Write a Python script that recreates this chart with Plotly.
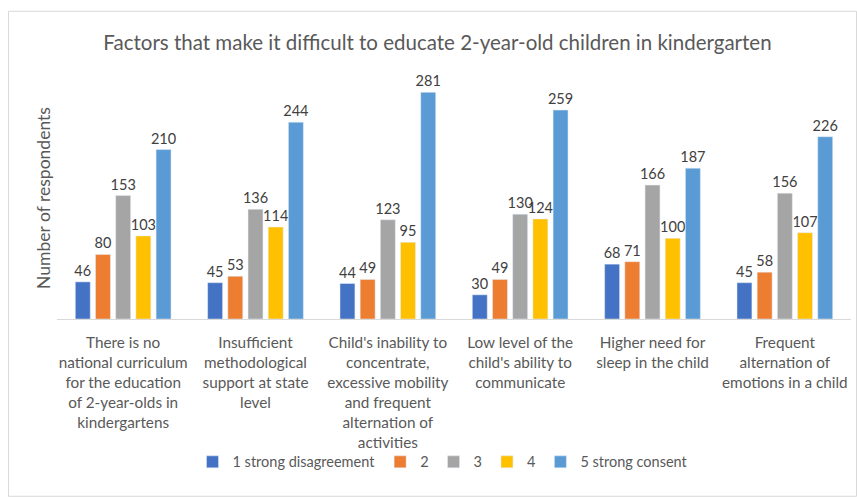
import plotly.graph_objects as go

categories = [
    "There is no<br>national curriculum<br>for the education<br>of 2-year-olds in<br>kindergartens",
    "Insufficient<br>methodological<br>support at state<br>level",
    "Child's inability to<br>concentrate,<br>excessive mobility<br>and frequent<br>alternation of<br>activities",
    "Low level of the<br>child's ability to<br>communicate",
    "Higher need for<br>sleep in the child",
    "Frequent<br>alternation of<br>emotions in a child",
]
series_names = ["1 strong disagreement", "2", "3", "4", "5 strong consent"]
s1 = [46, 45, 44, 30, 68, 45]
s2 = [80, 53, 49, 49, 71, 58]
s3 = [153, 136, 123, 130, 166, 156]
s4 = [103, 114, 95, 124, 100, 107]
s5 = [210, 244, 281, 259, 187, 226]
colors = ["#4472C4", "#ED7D31", "#A5A5A5", "#FFC000", "#5B9BD5"]

FONT = "Lato, Open Sans, sans-serif"
TXT = "#595959"

fig = go.Figure()
for name, vals, col in zip(series_names, [s1, s2, s3, s4, s5], colors):
    fig.add_trace(go.Bar(
        x=categories, y=vals, name=name, marker_color=col,
        text=vals, textposition="outside", cliponaxis=False,
        constraintext="none",
        textfont=dict(family=FONT, size=14.5, color="#404040"),
    ))

W, H = 857, 499
L, R, T, B = 57, 6, 76.5, 179.5
pw, ph = W - L - R, H - T - B

def px(x):
    return (x - L) / pw

def py(y):
    return (H - B - y) / ph

fig.update_layout(
    width=W, height=H,
    margin=dict(l=L, r=R, t=T, b=B, autoexpand=False),
    paper_bgcolor="white", plot_bgcolor="white",
    barmode="group", bargap=0.237, bargroupgap=0.26,
    font=dict(family=FONT, color=TXT),
    title=dict(
        text="Factors that make it difficult to educate 2-year-old children in kindergarten",
        x=437.5 / W, xref="container", xanchor="center",
        y=1 - 43 / H, yref="container", yanchor="middle",
        font=dict(family=FONT, size=20.5, color=TXT),
    ),
    showlegend=True,
    legend=dict(
        orientation="h", x=px(443), xanchor="center",
        y=py(463), yanchor="middle",
        font=dict(family=FONT, size=14.5, color=TXT),
        itemwidth=30, traceorder="normal",
        bgcolor="rgba(0,0,0,0)",
    ),
    xaxis=dict(
        showline=True, linecolor="#D9D9D9", linewidth=1,
        ticks="", tickfont=dict(family=FONT, size=15.3, color=TXT),
        showgrid=False, tickangle=0, ticklabelstandoff=10,
    ),
    yaxis=dict(
        range=[0, 300], showgrid=False, showticklabels=False,
        zeroline=False, ticks="",
        title=dict(text="Number of respondents", standoff=0,
                   font=dict(family=FONT, size=17.5, color=TXT)),
    ),
    shapes=[dict(
        type="rect", xref="paper", yref="paper",
        x0=px(8.5), x1=px(856.5), y0=py(497.5), y1=py(10.5),
        line=dict(color="#D9D9D9", width=1), fillcolor="rgba(0,0,0,0)",
        layer="below",
    )],
)

fig.write_html("out.html")
